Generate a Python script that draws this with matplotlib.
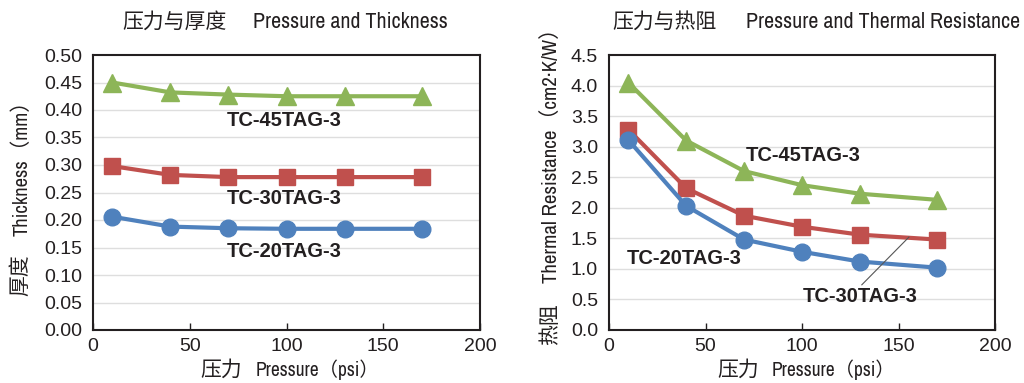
import matplotlib
matplotlib.use("Agg")
import matplotlib.pyplot as plt
from matplotlib import font_manager as fm
import numpy as np

names = sorted({f.name for f in fm.fontManager.ttflist})
narrow_cands = [n for n in names if ("Narrow" in n or "Condensed" in n)]
NARROW = narrow_cands[0] if narrow_cands else "Liberation Sans"
CJK = "Noto Sans CJK SC"
SANS = "Liberation Sans"

pressure = [10, 40, 70, 100, 130, 170]
thick_45 = [0.450, 0.432, 0.428, 0.425, 0.425, 0.425]
thick_30 = [0.298, 0.282, 0.278, 0.278, 0.278, 0.278]
thick_20 = [0.206, 0.188, 0.185, 0.184, 0.184, 0.184]
res_45 = [4.05, 3.10, 2.60, 2.37, 2.23, 2.13]
res_30 = [3.28, 2.32, 1.87, 1.69, 1.56, 1.48]
res_20 = [3.11, 2.03, 1.48, 1.28, 1.12, 1.02]
names_series = ["TC-45TAG-3", "TC-30TAG-3", "TC-20TAG-3"]

GREEN = "#8db558"
RED = "#c0504d"
BLUE = "#4f81bd"
TXT = "#231f20"

fig = plt.figure(figsize=(10.24, 3.83), dpi=100)
axL = fig.add_axes([93/1024, 1-330/383, 387/1024, 275/383])
axR = fig.add_axes([609/1024, 1-330/383, 386/1024, 275/383])

def style(ax, ymax, step, fmt):
    ax.set_xlim(0, 200)
    ax.set_ylim(0, ymax)
    ax.set_xticks([0, 50, 100, 150, 200])
    yt = np.arange(0, ymax + step/2, step)
    ax.set_yticks(yt)
    ax.set_yticklabels([fmt % v for v in yt])
    for v in yt[1:-1]:
        ax.axhline(v, color="#dedede", lw=1.0, zorder=0)
    for s in ax.spines.values():
        s.set_color(TXT)
        s.set_linewidth(1.5)
    ax.tick_params(axis="x", direction="in", length=5, width=1, color=TXT, pad=6)
    ax.tick_params(axis="y", length=0, pad=8)
    for lab in ax.get_xticklabels() + ax.get_yticklabels():
        lab.set_fontfamily(SANS)
        lab.set_fontsize(14)
        lab.set_color(TXT)

style(axL, 0.5, 0.05, "%.2f")
style(axR, 4.5, 0.5, "%.1f")

kw = dict(lw=3, zorder=3)
axL.plot(pressure, thick_45, color=GREEN, marker="^", ms=13, **kw)
axL.plot(pressure, thick_30, color=RED, marker="s", ms=12, **kw)
axL.plot(pressure, thick_20, color=BLUE, marker="o", ms=12, **kw)
axR.plot(pressure, res_45, color=GREEN, marker="^", ms=13, **kw)
axR.plot(pressure, res_30, color=RED, marker="s", ms=12, **kw)
axR.plot(pressure, res_20, color=BLUE, marker="o", ms=12, **kw)

lk = dict(fontfamily=SANS, fontweight="bold", fontsize=14.5, color=TXT, ha="center", va="center", zorder=5)
axL.text(99, 0.38, names_series[0], **lk)
axL.text(99, 0.24, names_series[1], **lk)
axL.text(99, 0.1436, names_series[2], **lk)
axR.text(100.5, 2.86, names_series[0], **lk)
axR.text(130, 0.55, names_series[1], **lk)
axR.text(39, 1.17, names_series[2], **lk)
axR.plot([131, 155.4], [0.74, 1.52], color="#555555", lw=0.8, zorder=4)

def ftext(x, y, s, fam, size, **k):
    return fig.text(x/1024, 1-y/383, s, family=fam, fontsize=size, color=TXT, **k)

def fit_text(x, y, s, length_px, size, vertical=False, **k):
    t = ftext(x, y, s, [NARROW, CJK], size, **k)
    fig.canvas.draw()
    bb = t.get_window_extent()
    cur = bb.height if vertical else bb.width
    if cur > 0:
        t.set_fontsize(size * length_px / cur)
    return t

ftext(122, 22, "压力与厚度", [CJK, SANS], 15, ha="left", va="center")
fit_text(253, 22, "Pressure and Thickness", 194, 15, ha="left", va="center")
ftext(612, 22, "压力与热阻", [CJK, SANS], 15, ha="left", va="center")
fit_text(746, 22, "Pressure and Thermal Resistance", 274, 15, ha="left", va="center")

ftext(200, 370, "压力", [CJK, SANS], 15, ha="left", va="center")
fit_text(256, 370, "Pressure（psi）", 124, 12.5, ha="left", va="center")
ftext(717, 370, "压力", [CJK, SANS], 15, ha="left", va="center")
fit_text(772, 370, "Pressure（psi）", 124, 12.5, ha="left", va="center")

ftext(20, 296, "厚度", [CJK, SANS], 15, ha="left", va="center", rotation=90, rotation_mode="anchor")
fit_text(22, 236, "Thickness（mm）", 146, 12.5, vertical=True, ha="left", va="center", rotation=90, rotation_mode="anchor")
ftext(550, 345, "热阻", [CJK, SANS], 15, ha="left", va="center", rotation=90, rotation_mode="anchor")
fit_text(551, 283, "Thermal Resistance（cm2·K/W）", 266, 12.5, vertical=True, ha="left", va="center", rotation=90, rotation_mode="anchor")

fig.savefig("out.png", dpi=100)
